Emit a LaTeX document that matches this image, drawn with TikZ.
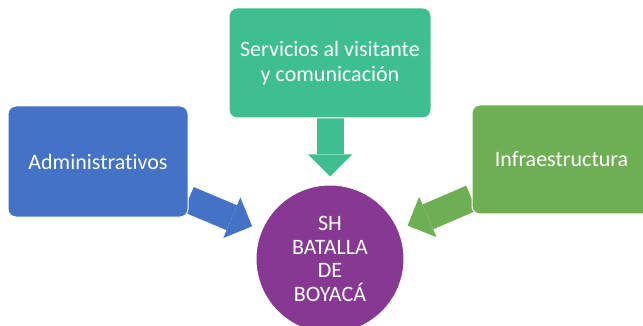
\documentclass[tikz,border=0pt]{standalone}
\usepackage{fontspec}
\setmainfont{Carlito}[Ligatures=NoCommon]
\usetikzlibrary{arrows.meta,backgrounds,calc}
\definecolor{cblue}{HTML}{4472C4}
\definecolor{cteal}{HTML}{3FBE8F}
\definecolor{cgreen}{HTML}{6FAF53}
\definecolor{cpurple}{HTML}{863892}
\begin{document}
\begin{tikzpicture}[x=1pt,y=-1pt,
  box/.style={draw=white, line width=1pt, rounded corners=8pt, text=white,
    font=\fontsize{22}{24.5}\selectfont, align=center, inner sep=0pt},
  hub/.style={circle, draw=white, line width=1pt, text=white,
    font=\fontsize{22}{23.5}\selectfont, align=center, inner sep=0pt},
  barrow/.style={line width=27pt, -{Triangle[length=22pt,width=44pt,line width=0pt]}},
]
\useasboundingbox (0,0) rectangle (643,326);
\clip (0,0) rectangle (643,326);
\node[box, fill=cblue, minimum width=180pt, minimum height=111pt] (adm) at (98,161.5) {Administrativos};
\node[box, fill=cteal, minimum width=202pt, minimum height=110pt] (serv) at (330,63) {Servicios al visitante\\y comunicación};
\node[box, fill=cgreen, minimum width=179pt, minimum height=109pt] (infra) at (561.5,159.5) {Infraestructura};
\node[hub, fill=cpurple, minimum size=148pt] (circ) at (330,259) {SH\\BATALLA\\DE\\BOYACÁ};
\begin{scope}[on background layer]
  \draw[barrow, cteal, shorten >=8pt] (serv) -- (circ);
  \draw[barrow, cblue, shorten >=10pt] (adm) -- (circ);
  \draw[barrow, cgreen, shorten >=10pt] (infra) -- (circ);
\end{scope}
\end{tikzpicture}
\end{document}
